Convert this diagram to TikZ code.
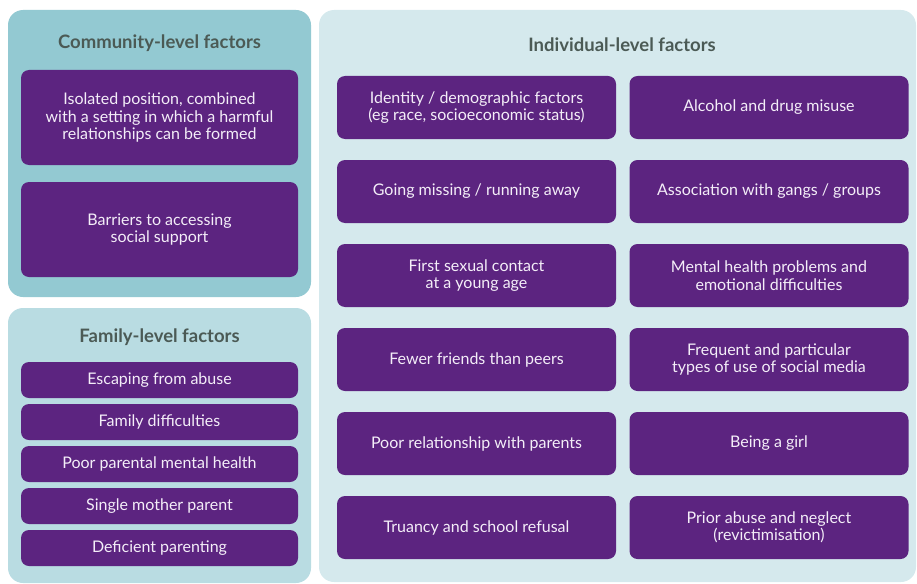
\documentclass[tikz,border=0pt]{standalone}
\usepackage{fontspec}
\setmainfont{Lato}
\usepackage{xcolor}
\usepackage{tikz}
\usetikzlibrary{positioning}
\usetikzlibrary{backgrounds}

\definecolor{factorpurple}{HTML}{5C2480}
\definecolor{communityblue}{HTML}{93C9D2}
\definecolor{familyblue}{HTML}{B9DCE2}
\definecolor{individualblue}{HTML}{D5E9ED}
\definecolor{headgrey}{HTML}{4B5A55}
\definecolor{factortext}{HTML}{F4EEF8}

\begin{document}
\begin{tikzpicture}[
        x=1pt, y=-1pt,
        panel/.style={rounded corners=15pt, inner sep=0pt},
        heading/.style={font=\fontsize{18.5}{21}\selectfont\bfseries, text=headgrey},
        factor/.style={fill=factorpurple, rounded corners=8pt, align=center,
            text=factortext, font=\fontsize{16}{17.5}\selectfont, inner sep=0pt}
    ]
    \useasboundingbox (0,0) rectangle (917,583);

    %=== Panels ===%
    \node[panel, fill=communityblue, minimum width=303pt, minimum height=287pt] (community) at (159.5,153.5) {};
    \node[panel, fill=familyblue, minimum width=303pt, minimum height=275pt] (family) at (159.5,445.5) {};
    \node[panel, fill=individualblue, minimum width=597pt, minimum height=572pt] (individual) at (617.5,296) {};

    %=== Headings ===%
    \node[heading] (communityhead) at (159.5,43) {Community-level factors};
    \node[heading] (familyhead) at (159.5,337) {Family-level factors};
    \node[heading] (individualhead) at (622,45) {Individual-level factors};

    %=== Community-level factors ===%
    \node[factor, minimum width=277pt, minimum height=95pt] (C1) at (159.5,117.5)
        {Isolated position, combined\\with a setting in which a harmful\\relationships can be formed};
    \node[factor, minimum width=277pt, minimum height=95pt] (C2) at (159.5,229.5)
        {Barriers to accessing\\social support};

    %=== Family-level factors ===%
    \foreach \txt [count=\i] in {Escaping from abuse, Family difficulties,
            Poor parental mental health, Single mother parent, Deficient parenting} {
        \node[factor, minimum width=277pt, minimum height=36pt] (F\i) at (159.5,{338+42*\i}) {\txt};
    }

    %=== Macro to place individual factors ===%
    % #1 = name
    % #2 = column (0 or 1)
    % #3 = row (0 to 5)
    % #4 = text
    \newcommand{\indiv}[4]{
        \pgfmathsetmacro{\x}{476.5+292.5*#2}
        \pgfmathsetmacro{\y}{107.5+84*#3}
        \node[factor, minimum width=279pt, minimum height=63pt] (#1) at (\x,\y) {#4};
    }

    %=== Individual-level factors ===%
    \indiv{I1}{0}{0}{Identity / demographic factors\\(eg race, socioeconomic status)};
    \indiv{I2}{1}{0}{Alcohol and drug misuse};
    \indiv{I3}{0}{1}{Going missing / running away};
    \indiv{I4}{1}{1}{Association with gangs / groups};
    \indiv{I5}{0}{2}{First sexual contact\\at a young age};
    \indiv{I6}{1}{2}{Mental health problems and\\emotional difficulties};
    \indiv{I7}{0}{3}{Fewer friends than peers};
    \indiv{I8}{1}{3}{Frequent and particular\\types of use of social media};
    \indiv{I9}{0}{4}{Poor relationship with parents};
    \indiv{I10}{1}{4}{Being a girl};
    \indiv{I11}{0}{5}{Truancy and school refusal};
    \indiv{I12}{1}{5}{Prior abuse and neglect\\(revictimisation)};

\end{tikzpicture}
\end{document}
